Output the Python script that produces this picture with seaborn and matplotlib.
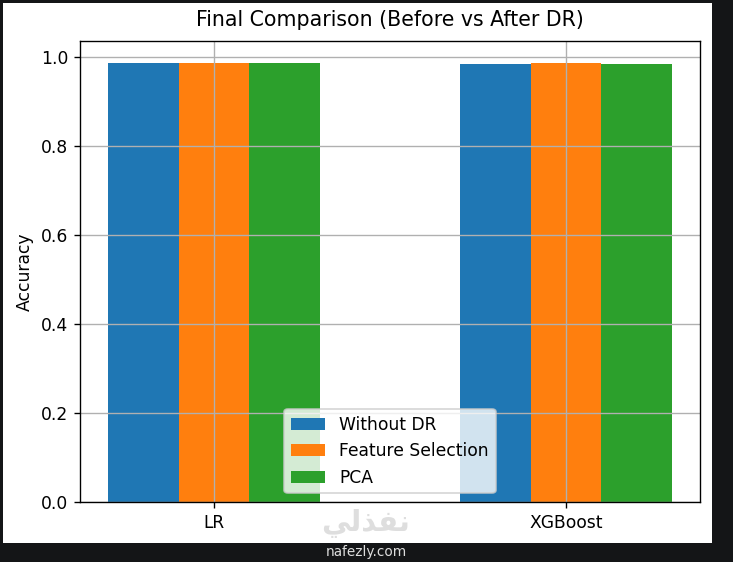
import matplotlib
matplotlib.use("Agg")
import matplotlib.pyplot as plt
from matplotlib.patches import Rectangle
import pandas as pd
import seaborn as sns

models = ["LR", "XGBoost"]
methods = ["Without DR", "Feature Selection", "PCA"]
acc_without_dr = [0.986, 0.983]
acc_feature_sel = [0.986, 0.985]
acc_pca = [0.986, 0.983]

colors = ["#1f77b4", "#ff7f0e", "#2ca02c"]

df = pd.DataFrame({
    "model": models * 3,
    "method": [m for m in methods for _ in models],
    "accuracy": acc_without_dr + acc_feature_sel + acc_pca,
})

fig = plt.figure(figsize=(733 / 123, 562 / 123), dpi=123, facecolor="#141517")
# white canvas of the screenshot, inside the dark frame
fig.patches.append(Rectangle((3 / 733, 1 - 543 / 562), 709 / 733, 540 / 562,
                             transform=fig.transFigure, facecolor="white",
                             edgecolor="none", zorder=-5))
ax = fig.add_axes([80 / 733, 1 - 502 / 562, 620 / 733, 461 / 562])

sns.barplot(data=df, x="model", y="accuracy", hue="method", hue_order=methods,
            palette=colors, saturation=1, width=0.6, ax=ax)

ax.set_xlim(-0.38, 1.38)
ax.set_xlabel("")
ax.set_ylabel("Accuracy")
ax.set_title("Final Comparison (Before vs After DR)", pad=9)
ax.grid(True)
sns.move_legend(ax, "lower center", title=None)

# site watermark
fig.text(366 / 733, 1 - 523 / 562, "\ufef2\ufedf\ufeac\ufed4\ufee7", ha="center",
         va="center", fontsize=17, color="#dedede", fontweight="bold")
fig.text(366 / 733, 1 - 552 / 562, "nafezly.com", ha="center", va="center",
         fontsize=8, color="#dddddd")

fig.savefig("out.png", dpi=123, facecolor=fig.get_facecolor())
